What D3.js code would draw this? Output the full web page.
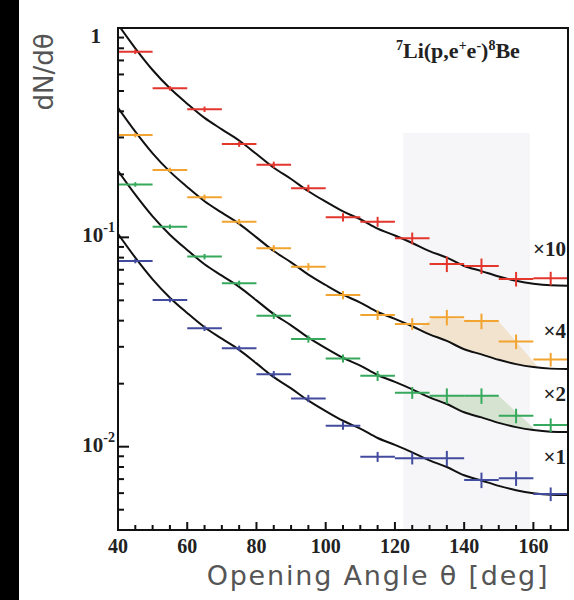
<!DOCTYPE html>
<html>
<head>
<meta charset="utf-8">
<script src="https://cdn.jsdelivr.net/npm/d3@7"></script>
<style>
  html, body { margin: 0; padding: 0; background: #fff; }
  svg { display: block; }
</style>
</head>
<body>
<svg id="chart" width="574" height="600"></svg>
<script>
// Opening-angle distributions of e+e- pairs, 7Li(p,e+e-)8Be, four beam energies.
const binCenters = [45, 55, 65, 75, 85, 95, 105, 115, 125, 135, 145, 155, 165];
const binHalfWidth = 5;

// Measured dN/dθ as plotted (already multiplied by the factor shown on the right)
const valuesX10 = [0.770, 0.515, 0.409, 0.279, 0.222, 0.1715, 0.1247, 0.1188, 0.0990, 0.0746, 0.0730, 0.0633, 0.0637];
const valuesX4  = [0.308, 0.210, 0.1554, 0.1188, 0.0887, 0.0724, 0.0530, 0.0426, 0.0386, 0.0415, 0.0398, 0.0318, 0.0261];
const valuesX2  = [0.179, 0.1124, 0.0809, 0.0603, 0.0422, 0.0327, 0.0264, 0.0218, 0.0181, 0.0175, 0.0175, 0.01406, 0.0127];
const valuesX1  = [0.0771, 0.0502, 0.0368, 0.0295, 0.0222, 0.0170, 0.0126, 0.00895, 0.0088, 0.0088, 0.00693, 0.00706, 0.00594];
// Relative statistical uncertainty per angular bin
const relErrors = [0.025, 0.025, 0.03, 0.03, 0.035, 0.04, 0.045, 0.055, 0.065, 0.085, 0.085, 0.08, 0.075];

const seriesLabels = ["×10", "×4", "×2", "×1"];
const scaleFactors = [10, 4, 2, 1];

// Simulated distribution (unscaled)
const simAngles = [40, 45, 50, 55, 60, 65, 70, 75, 80, 85, 90, 95, 100, 105, 110, 115, 120, 125, 130, 135, 140, 145, 150, 155, 160, 165, 170];
const simValues = [0.104, 0.080, 0.063, 0.0515, 0.0435, 0.0372, 0.0328, 0.0290, 0.0250, 0.0215, 0.0190, 0.0166, 0.0148, 0.0133, 0.0122, 0.0110, 0.0102, 0.0094, 0.0086, 0.0080, 0.0073, 0.0069, 0.0065, 0.0062, 0.0060, 0.0059, 0.00588];

// Excess over simulation (upper edge of the shaded regions)
const excessAnglesX4 = [127, 131, 150, 161];
const excessTopX4    = [0.0366, 0.0413, 0.0396, 0.0244];
const excessAnglesX2 = [128.5, 131, 150, 160];
const excessTopX2    = [0.0176, 0.0175, 0.0175, 0.0123];

// Angular window highlighted in grey
const windowAngles = [122.4, 159];
const windowTop = 0.315;

const xTickValues = [40, 60, 80, 100, 120, 140, 160];
const yMajorTicks = [1, 0.1, 0.01];
const yTickLabels = [["1", ""], ["10", "-1"], ["10", "-2"]];

// ---------------------------------------------------------------
const colors = ["#e3362c", "#f2a431", "#36a95c", "#424b9e"];
const seriesValues = [valuesX10, valuesX4, valuesX2, valuesX1];

const svg = d3.select("#chart");
const W = 574, H = 600;
const plot = { left: 118, right: 568, top: 28, bottom: 530 };

const x = d3.scaleLinear().domain([40, 170]).range([plot.left, plot.right]);
const y = d3.scaleLog().domain([0.004, 1]).range([plot.bottom, plot.top]);

svg.append("rect").attr("width", W).attr("height", H).attr("fill", "#fff");
svg.append("rect").attr("x", 0).attr("y", 0).attr("width", 19).attr("height", H).attr("fill", "#000");

svg.append("defs").append("clipPath").attr("id", "plotClip")
  .append("rect")
  .attr("x", plot.left).attr("y", plot.top)
  .attr("width", plot.right - plot.left).attr("height", plot.bottom - plot.top);

const inner = svg.append("g").attr("clip-path", "url(#plotClip)");

// grey angular window
inner.append("rect")
  .attr("x", x(windowAngles[0]))
  .attr("y", y(windowTop))
  .attr("width", x(windowAngles[1]) - x(windowAngles[0]))
  .attr("height", plot.bottom - y(windowTop))
  .attr("fill", "#f6f6f8");

// log-space interpolation of the simulation
function simAt(a) {
  const i = Math.max(1, Math.min(simAngles.length - 1, d3.bisectLeft(simAngles, a)));
  const a0 = simAngles[i - 1], a1 = simAngles[i];
  const t = (a - a0) / (a1 - a0);
  return Math.exp(Math.log(simValues[i - 1]) * (1 - t) + Math.log(simValues[i]) * t);
}
function edgeAt(angles, vals, a) {
  const i = Math.max(1, Math.min(angles.length - 1, d3.bisectLeft(angles, a)));
  const t = (a - angles[i - 1]) / (angles[i] - angles[i - 1]);
  return Math.exp(Math.log(vals[i - 1]) * (1 - t) + Math.log(vals[i]) * t);
}

function excessArea(angles, tops, factor, fill) {
  const pts = d3.range(angles[0], angles[angles.length - 1] + 0.001, 0.25).map(a => ({
    a,
    lo: simAt(a) * factor,
    hi: Math.max(edgeAt(angles, tops, a), simAt(a) * factor)
  }));
  inner.append("path")
    .datum(pts)
    .attr("d", d3.area().x(d => x(d.a)).y0(d => y(d.lo)).y1(d => y(d.hi)))
    .attr("fill", fill);
}
excessArea(excessAnglesX4, excessTopX4, 4, "#f1e3cd");
excessArea(excessAnglesX2, excessTopX2, 2, "#d7e3d1");

// simulation curves
const simLine = d3.line().x(d => x(d[0])).y(d => y(d[1])).curve(d3.curveMonotoneX);
scaleFactors.forEach(f => {
  inner.append("path")
    .datum(simAngles.map((a, i) => [a, simValues[i] * f]))
    .attr("d", simLine)
    .attr("fill", "none")
    .attr("stroke", "#111")
    .attr("stroke-width", 2);
});

// data points: horizontal bin bars with vertical error bars
seriesValues.forEach((vals, s) => {
  const g = inner.append("g").attr("stroke", colors[s]).attr("stroke-width", 2);
  const pts = binCenters.map((a, i) => ({ a, v: vals[i], e: relErrors[i] }));
  g.selectAll("line.h").data(pts).join("line")
    .attr("class", "h")
    .attr("x1", d => x(d.a - binHalfWidth)).attr("x2", d => x(d.a + binHalfWidth))
    .attr("y1", d => y(d.v)).attr("y2", d => y(d.v));
  g.selectAll("line.v").data(pts).join("line")
    .attr("class", "v")
    .attr("x1", d => x(d.a)).attr("x2", d => x(d.a))
    .attr("y1", d => y(d.v * (1 + d.e))).attr("y2", d => y(d.v * (1 - d.e)));
});

// frame
svg.append("rect")
  .attr("x", plot.left).attr("y", plot.top)
  .attr("width", plot.right - plot.left).attr("height", plot.bottom - plot.top)
  .attr("fill", "none").attr("stroke", "#111").attr("stroke-width", 2);

// x ticks (every 5°, long ones at labelled values)
const xt = svg.append("g").attr("stroke", "#111").attr("stroke-width", 2);
d3.range(45, 170, 5).forEach(a => {
  const major = xTickValues.includes(a);
  xt.append("line").attr("x1", x(a)).attr("x2", x(a))
    .attr("y1", plot.bottom).attr("y2", plot.bottom - (major ? 8 : 5));
});
svg.append("g").selectAll("text").data(xTickValues).join("text")
  .attr("x", d => x(d)).attr("y", 553)
  .attr("text-anchor", "middle")
  .attr("font-family", "'Liberation Serif', 'Times New Roman', serif")
  .attr("font-weight", "bold").attr("font-size", 20).attr("fill", "#222")
  .text(d => d);

// y ticks (log decades with 2..9 minor ticks)
const yt = svg.append("g").attr("stroke", "#111").attr("stroke-width", 2);
[-3, -2, -1].forEach(k => {
  d3.range(1, 10).forEach(m => {
    const v = m * Math.pow(10, k);
    if (v < 0.004 || v >= 1) return;
    yt.append("line").attr("x1", plot.left).attr("x2", plot.left + (m === 1 ? 11 : 6))
      .attr("y1", y(v)).attr("y2", y(v));
  });
});
const ylab = svg.append("g")
  .attr("font-family", "'Liberation Serif', 'Times New Roman', serif")
  .attr("font-weight", "bold").attr("fill", "#222");
yMajorTicks.forEach((v, i) => {
  const [base, exp] = yTickLabels[i];
  const t = ylab.append("text")
    .attr("x", exp ? 115 : 101)
    .attr("y", Math.max(y(v) + 5, 43))
    .attr("text-anchor", "end")
    .attr("font-size", 21);
  t.append("tspan").text(base);
  if (exp) t.append("tspan").attr("dy", -10).attr("font-size", 14).text(exp);
});

// reaction label
const title = svg.append("text")
  .attr("x", 396).attr("y", 58)
  .attr("font-family", "'Liberation Serif', 'Times New Roman', serif")
  .attr("font-weight", "bold").attr("font-size", 22).attr("fill", "#222");
title.append("tspan").attr("font-size", 14).attr("dy", -8).text("7");
title.append("tspan").attr("dy", 8).text("Li(p,e");
title.append("tspan").attr("font-size", 14).attr("dy", -8).text("+");
title.append("tspan").attr("dy", 8).text("e");
title.append("tspan").attr("font-size", 14).attr("dy", -8).text("-");
title.append("tspan").attr("dy", 8).text(")");
title.append("tspan").attr("font-size", 14).attr("dy", -8).text("8");
title.append("tspan").attr("dy", 8).text("Be");

// scale-factor labels
const labelBaselines = [256, 338, 401, 464];
svg.append("g").selectAll("text").data(seriesLabels).join("text")
  .attr("x", 566).attr("y", (d, i) => labelBaselines[i])
  .attr("text-anchor", "end")
  .attr("font-family", "'Liberation Serif', 'Times New Roman', serif")
  .attr("font-weight", "bold").attr("font-size", 21).attr("fill", "#222")
  .text(d => d);

// axis titles
svg.append("text")
  .attr("transform", "translate(53,72) rotate(-90)")
  .attr("text-anchor", "middle")
  .attr("font-family", "'DejaVu Sans', sans-serif")
  .attr("font-size", 26).attr("fill", "#555")
  .text("dN/dθ");
svg.append("text")
  .attr("x", 378).attr("y", 585)
  .attr("text-anchor", "middle")
  .attr("font-family", "'DejaVu Sans', sans-serif")
  .attr("font-size", 27).attr("letter-spacing", 1.8).attr("fill", "#555")
  .text("Opening Angle θ [deg]");
</script>
</body>
</html>
